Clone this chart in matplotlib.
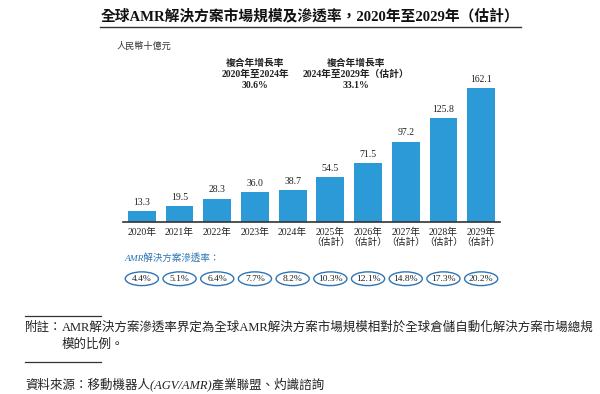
import matplotlib
matplotlib.use("Agg")
import matplotlib.pyplot as plt
import matplotlib.transforms as mtransforms
from matplotlib.patches import Ellipse

plt.rcParams['font.family'] = ['Liberation Serif', 'Noto Sans CJK TC', 'DejaVu Sans']

# ----------------------------
# data
# ----------------------------
years = ["2020年", "2021年", "2022年", "2023年", "2024年",
         "2025年\n（估計）", "2026年\n（估計）", "2027年\n（估計）",
         "2028年\n（估計）", "2029年\n（估計）"]
market_size = [13.3, 19.5, 28.3, 36.0, 38.7, 54.5, 71.5, 97.2, 125.8, 162.1]
penetration = ["4.4%", "5.1%", "6.4%", "7.7%", "8.2%",
               "10.3%", "12.1%", "14.8%", "17.3%", "20.2%"]
cagr_labels = ["複合年增長率\n2020年至2024年\n30.6%",
               "複合年增長率\n2024年至2029年（估計）\n33.1%"]

bar_color = "#2B9AD6"
ring_color = "#2E75B6"
text_color = "#222222"

W, H = 600, 394
fig = plt.figure(figsize=(6, 3.94), dpi=100)

def px(x, y):
    # pixel position (from top-left) -> figure fraction
    return x / W, 1 - y / H

# bar axes: 123..500 px wide, baseline at 222 px
ax = fig.add_axes([123 / W, (H - 222) / H, 377 / W, 183 / H])
xs = list(range(len(market_size)))
bars = ax.bar(xs, market_size, width=0.74, color=bar_color, zorder=2)
ax.set_xlim(-0.5, 9.5)
ax.set_ylim(0, 221)

for b, v in zip(bars, market_size):
    ax.annotate(f"{v:.1f}", (b.get_x() + b.get_width() / 2, v),
                xytext=(0, 3), textcoords="offset points",
                ha="center", va="bottom", fontsize=7, color=text_color)

for s in ["top", "right", "left"]:
    ax.spines[s].set_visible(False)
ax.spines["bottom"].set_color("#333333")
ax.spines["bottom"].set_linewidth(1.2)
ax.set_yticks([])
ax.set_xticks(xs)
ax.set_xticklabels(years, fontsize=7, color=text_color, linespacing=1.1, va="top")
ax.tick_params(axis="x", length=0, pad=4)
ax.patch.set_alpha(0)

trans = mtransforms.blended_transform_factory(ax.transData, ax.transAxes)

# penetration rate row
ax.text(-0.45, -0.195, "AMR解決方案滲透率：", transform=trans,
        fontsize=6.8, color=ring_color, style="italic", ha="left", va="center")

for i, p in enumerate(penetration):
    e = Ellipse((i, -0.31), width=0.88, height=0.075, transform=trans,
                fill=False, edgecolor=ring_color, linewidth=1.0, clip_on=False)
    ax.add_patch(e)
    ax.text(i, -0.31, p, transform=trans, ha="center", va="center",
            fontsize=6.8, color=text_color)

# CAGR annotations
for cx, lab in zip([255, 356], cagr_labels):
    fig.text(*px(cx, 74), lab, ha="center", va="center", fontsize=7,
             fontweight="bold", color=text_color, linespacing=1.25)

# unit label
fig.text(*px(117, 46), "人民幣十億元", ha="left", va="center", fontsize=6.6, color="#333333")

# title with underline
fig.text(*px(310, 16), "全球AMR解決方案市場規模及滲透率，2020年至2029年（估計）",
         ha="center", va="center", fontsize=10.6, fontweight="bold", color="#111111")
fig.add_artist(plt.Line2D([100 / W, 521 / W], [1 - 27 / H, 1 - 27 / H],
                          color="#333333", linewidth=1.0))

# footnotes
for y in (316, 362):
    fig.add_artist(plt.Line2D([25 / W, 101 / W], [1 - y / H, 1 - y / H],
                              color="#333333", linewidth=0.9))

fig.text(*px(25, 328), "附註：", ha="left", va="center", fontsize=9,
         style="italic", color=text_color)
fig.text(*px(62, 328),
         "AMR解決方案滲透率界定為全球AMR解決方案市場規模相對於全球倉儲自動化解決方案市場總規",
         ha="left", va="center", fontsize=9, color=text_color)
fig.text(*px(62, 345), "模的比例。", ha="left", va="center", fontsize=9, color=text_color)
fig.text(*px(25, 384), "資料來源：移動機器人(AGV/AMR)產業聯盟、灼識諮詢",
         ha="left", va="center", fontsize=9, style="italic", color=text_color)

fig.savefig("out.png", dpi=100)
